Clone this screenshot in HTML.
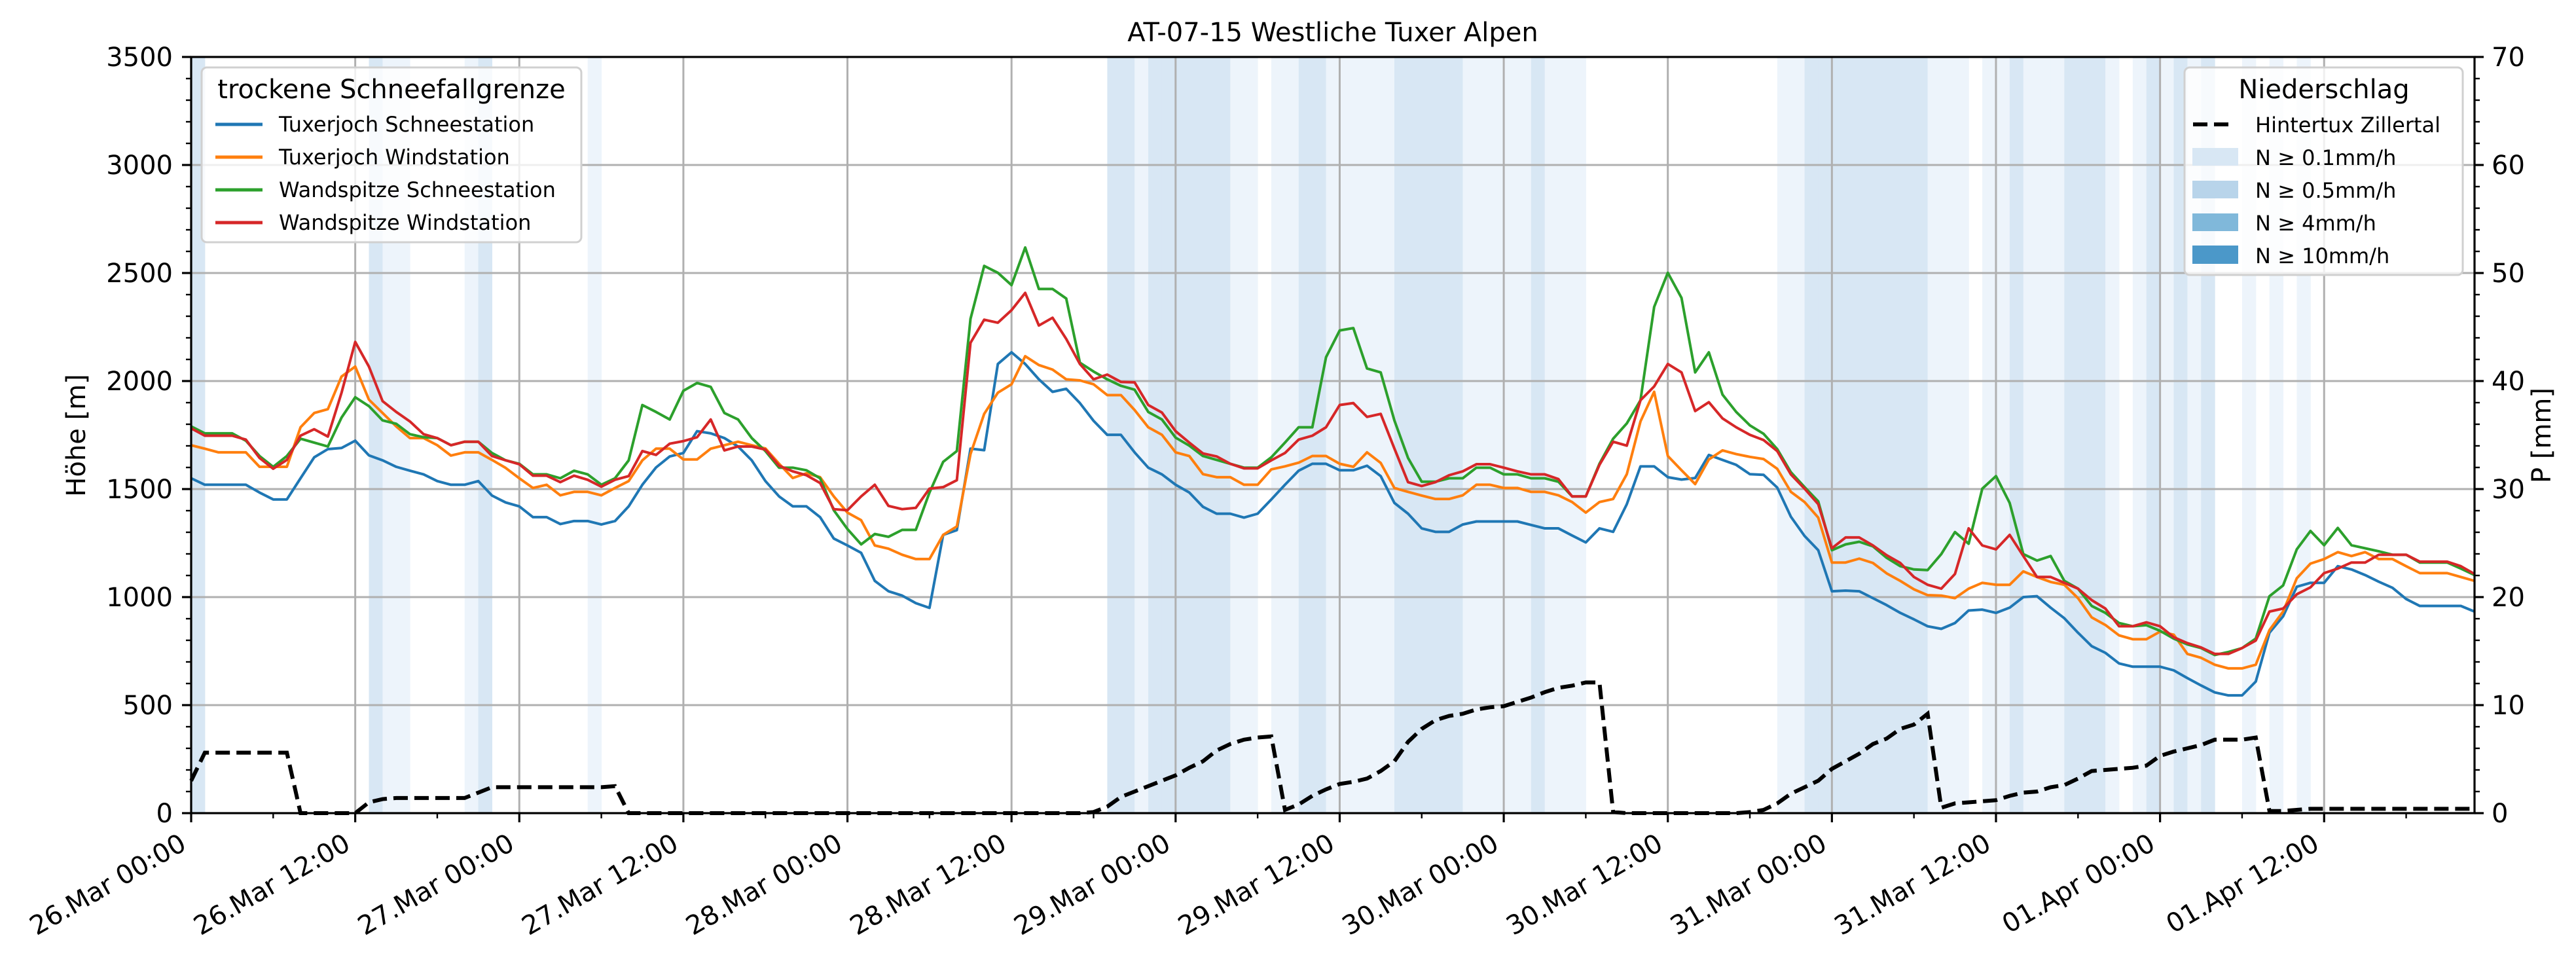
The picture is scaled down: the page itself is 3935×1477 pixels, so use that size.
<!DOCTYPE html>
<html><head><meta charset="utf-8"><style>
html,body{margin:0;padding:0;background:#fff;}
svg{display:block;font-family:"DejaVu Sans","Liberation Sans",sans-serif;}
</style></head><body>
<svg id="chart" width="3935" height="1477" viewBox="0 0 3935 1477" xmlns="http://www.w3.org/2000/svg">
<rect x="0" y="0" width="3935" height="1477" fill="#fff"/>
<g id="bands"></g>
<g id="grid"></g>
<g id="series"></g>
<g id="axes"></g>
<text x="2036" y="63" font-size="40" text-anchor="middle">AT-07-15 Westliche Tuxer Alpen</text>
<text transform="translate(130,665) rotate(-90)" font-size="40" text-anchor="middle">Höhe [m]</text>
<text transform="translate(3896,665) rotate(-90)" font-size="40" text-anchor="middle">P [mm]</text>
<g>
<rect x="308" y="103" width="580" height="267" rx="8" fill="#fff" fill-opacity="0.8" stroke="#d0d0d0" stroke-width="3"/>
<text x="598" y="150" font-size="40" text-anchor="middle">trockene Schneefallgrenze</text>
<g><line x1="329" y1="190" x2="401" y2="190" stroke="#1f77b4" stroke-width="5"/><text x="426" y="201" font-size="32">Tuxerjoch Schneestation</text></g>
<g><line x1="329" y1="240" x2="401" y2="240" stroke="#ff7f0e" stroke-width="5"/><text x="426" y="251" font-size="32">Tuxerjoch Windstation</text></g>
<g><line x1="329" y1="290" x2="401" y2="290" stroke="#2ca02c" stroke-width="5"/><text x="426" y="301" font-size="32">Wandspitze Schneestation</text></g>
<g><line x1="329" y1="340" x2="401" y2="340" stroke="#d62728" stroke-width="5"/><text x="426" y="351" font-size="32">Wandspitze Windstation</text></g>
</g>
<g>
<rect x="3337" y="103" width="425" height="317" rx="8" fill="#fff" fill-opacity="0.8" stroke="#d0d0d0" stroke-width="3"/>
<text x="3550" y="150" font-size="40" text-anchor="middle">Niederschlag</text>
<g><line x1="3350" y1="190" x2="3408" y2="190" stroke="#000" stroke-width="6" stroke-dasharray="22,10"/><text x="3445" y="202" font-size="32">Hintertux Zillertal</text></g>
<g><rect x="3349" y="226" width="70" height="27" fill="#d8e7f4"/><text x="3445" y="252" font-size="32">N ≥ 0.1mm/h</text></g>
<g><rect x="3349" y="276" width="70" height="27" fill="#b8d4ea"/><text x="3445" y="302" font-size="32">N ≥ 0.5mm/h</text></g>
<g><rect x="3349" y="326" width="70" height="27" fill="#80b8da"/><text x="3445" y="352" font-size="32">N ≥ 4mm/h</text></g>
<g><rect x="3349" y="375" width="70" height="28" fill="#4b98c9"/><text x="3445" y="402" font-size="32">N ≥ 10mm/h</text></g>
</g>
</svg>
<script>
const xTickLabels = ["26.Mar 00:00","26.Mar 12:00","27.Mar 00:00","27.Mar 12:00","28.Mar 00:00","28.Mar 12:00","29.Mar 00:00","29.Mar 12:00","30.Mar 00:00","30.Mar 12:00","31.Mar 00:00","31.Mar 12:00","01.Apr 00:00","01.Apr 12:00"];
const yTicks = [0,500,1000,1500,2000,2500,3000,3500];
const y2Ticks = [0,10,20,30,40,50,60,70];
const tuxSchnee = [1550,1520,1520,1520,1520,1484,1452,1452,1550,1647,1685,1690,1724,1656,1633,1603,1585,1568,1537,1520,1520,1537,1470,1438,1420,1370,1370,1338,1352,1352,1336,1352,1420,1520,1600,1651,1667,1768,1758,1736,1697,1633,1537,
1466,1420,1420,1370,1271,1239,1205,1075,1027,1007,972,950,1288,1310,1687,1680,2079,2133,2079,2008,1950,1964,1898,1816,1751,1751,1670,1599,1568,1520,1484,1418,1386,1386,1368,1386,1452,1520,1585,1617,1617,1587,
1587,1608,1560,1436,1386,1318,1302,1302,1336,1350,1350,1350,1350,1334,1318,1318,1285,1253,1318,1302,1430,1605,1605,1555,1544,1551,1658,1635,1612,1569,1566,1507,1372,1283,1217,1027,1030,1027,995,963,927,897,
865,853,880,938,942,927,951,1000,1004,951,902,835,773,742,693,678,678,678,661,625,591,559,545,545,609,835,911,1048,1066,1066,1143,1128,1102,1071,1043,991,959,959,959,959,933];
const tuxWind = [1703,1687,1670,1670,1670,1603,1603,1603,1786,1852,1870,2021,2067,1914,1852,1790,1736,1736,1703,1655,1670,1670,1635,1598,1550,1505,1520,1471,1487,1487,1471,1505,1537,1633,1687,1687,1637,1637,1687,1703,1719,1703,1688,
1617,1551,1573,1555,1466,1391,1356,1239,1224,1196,1176,1176,1288,1327,1662,1848,1946,1985,2115,2074,2053,2008,2003,1985,1935,1935,1866,1786,1751,1670,1653,1569,1555,1555,1520,1520,1591,1605,1622,1653,1653,1617,
1603,1670,1621,1505,1487,1470,1454,1454,1471,1520,1520,1505,1505,1487,1487,1471,1440,1391,1440,1454,1569,1813,1950,1653,1587,1523,1637,1679,1662,1649,1639,1594,1487,1440,1368,1160,1160,1178,1158,1110,1075,1036,
1009,1007,995,1039,1066,1057,1057,1119,1093,1070,1057,995,906,871,823,805,805,840,826,737,719,687,670,670,687,847,933,1087,1155,1176,1208,1190,1208,1176,1176,1143,1111,1111,1111,1093,1075];
const wandSchnee = [1790,1758,1758,1758,1724,1653,1603,1653,1733,1715,1697,1831,1925,1884,1818,1802,1754,1740,1736,1703,1719,1719,1667,1633,1617,1568,1568,1550,1585,1568,1520,1550,1633,1889,1857,1822,1955,1991,1973,1852,1822,1736,1676,
1599,1599,1587,1550,1402,1315,1244,1292,1279,1311,1311,1484,1626,1676,2288,2533,2501,2444,2618,2426,2426,2382,2085,2044,2008,1978,1960,1857,1822,1738,1701,1653,1635,1617,1599,1599,1647,1715,1786,1786,2110,2234,
2245,2058,2040,1818,1644,1534,1534,1550,1550,1599,1599,1568,1568,1550,1550,1534,1466,1466,1617,1733,1804,1911,2343,2501,2385,2040,2133,1937,1857,1795,1756,1685,1578,1509,1443,1217,1244,1256,1235,1182,1143,1128,
1125,1199,1301,1247,1502,1560,1436,1199,1169,1190,1075,1039,959,927,880,865,870,844,808,781,764,732,746,764,808,1004,1054,1221,1306,1240,1320,1240,1226,1212,1196,1196,1160,1160,1160,1132,1102];
const wandWind = [1781,1747,1747,1747,1729,1644,1594,1635,1747,1777,1743,1946,2181,2067,1907,1857,1813,1754,1736,1703,1719,1719,1653,1633,1615,1562,1562,1532,1562,1543,1511,1543,1560,1676,1658,1710,1722,1740,1822,1679,1697,1697,1683,
1608,1582,1564,1528,1407,1402,1466,1520,1422,1407,1413,1502,1509,1541,2177,2284,2270,2328,2408,2257,2293,2195,2079,2008,2030,1996,1994,1889,1854,1768,1715,1665,1651,1617,1596,1596,1633,1667,1729,1747,1786,1889,
1898,1834,1848,1688,1532,1514,1532,1564,1582,1615,1615,1599,1582,1568,1568,1546,1466,1466,1612,1719,1701,1911,1975,2079,2040,1861,1902,1827,1786,1751,1727,1676,1568,1502,1430,1226,1276,1276,1239,1194,1158,1093,
1057,1039,1107,1318,1239,1221,1288,1190,1093,1093,1066,1039,986,947,865,865,883,865,814,787,767,737,737,764,799,933,947,1013,1045,1111,1132,1160,1160,1196,1196,1196,1164,1164,1164,1143,1107];
const precip = [3.0,5.6,5.6,5.6,5.6,5.6,5.6,5.6,0,0,0,0,0,1.0,1.3,1.4,1.4,1.4,1.4,1.4,1.4,1.9,2.4,2.4,2.4,2.4,2.4,2.4,2.4,2.4,2.4,2.5,0,
0,0,0,0,0,0,0,0,0,0,0,0,0,0,0,0,0,0,0,0,0,0,0,0,0,0,0,0,0,0,0,0,0,
0.1,0.6,1.5,2.0,2.5,3.0,3.5,4.2,4.8,5.8,6.4,6.8,7.0,7.1,0.3,0.8,1.6,2.2,2.7,2.9,3.2,3.9,4.8,6.6,7.8,8.6,9.0,9.2,9.6,9.8,9.9,10.3,10.7,11.2,11.6,11.8,12.1,12.1,0.1,
0,0,0,0,0,0,0,0,0,0.1,0.3,0.9,1.8,2.4,3.0,4.1,4.8,5.5,6.4,6.9,7.8,8.2,9.2,0.5,0.9,1.0,1.1,1.2,1.6,1.9,2.0,2.4,2.6,3.2,3.9,4.0,4.1,4.2,4.4,5.3,5.7,6.0,6.3,6.8,6.8,6.8,7.0,0.2,0.2,0.3,
0.4,0.4,0.4,0.4,0.4,0.4,0.4,0.4,0.4,0.4,0.4,0.4,0.4];
const precipClass = [2,0,0,0,0,0,0,0,0,0,0,0,0,2,1,1,0,0,0,0,1,2,0,0,0,0,0,0,0,1,
0,0,0,0,0,0,0,0,0,0,0,0,0,0,0,0,0,0,0,0,0,0,0,0,0,0,0,0,0,0,0,0,0,0,0,0,0,
2,2,1,2,2,2,2,2,2,1,1,0,1,1,2,2,1,1,1,1,1,2,2,2,2,2,1,1,1,1,1,2,1,1,1,
0,0,0,0,0,0,0,0,0,0,0,0,0,0,1,1,2,2,2,2,2,2,2,2,2,1,1,1,0,1,1,2,1,1,1,2,2,2,1,0,1,2,1,2,1,2,0,0,1,0,1,0,1,
0,0,0,0,0,0,0,0,0,0,0,0,0];

const NS='http://www.w3.org/2000/svg';
const L=292,R=3780,T=87,B=1242,HMAX=167;
const xs=h=>L+(R-L)*h/HMAX;
const ys=v=>B-(B-T)*v/3500;
const ys2=v=>B-(B-T)*v/70;
function mk(tag,attrs,parent){const e=document.createElementNS(NS,tag);for(const k in attrs)e.setAttribute(k,attrs[k]);parent.appendChild(e);return e;}
const gB=document.getElementById('bands'),gG=document.getElementById('grid'),gS=document.getElementById('series'),gA=document.getElementById('axes');
const bandCol=['none','#edf4fb','#d8e7f4'];
precipClass.forEach((c,h)=>{if(!c)return;
 const r=mk('rect',{x:xs(h),y:T,width:xs(h+1)-xs(h)+0.5,height:B-T,fill:bandCol[c]},gB);
 
 
});
xTickLabels.forEach((lab,i)=>{const x=xs(i*12);
 const g=mk('line',{x1:x,y1:T,x2:x,y2:B,stroke:'#b0b0b0','stroke-width':3},gG);
 
 
});
yTicks.forEach(v=>{const y=ys(v);
 const g=mk('line',{x1:L,y1:y,x2:R,y2:y,stroke:'#b0b0b0','stroke-width':3},gG);
 
 
});
function line(arr,col,name){
 const p=mk('polyline',{points:arr.map((v,i)=>xs(i)+','+ys(v)).join(' '),fill:'none',stroke:col,'stroke-width':4,'stroke-linejoin':'round'},gS);
 
 
}
line(tuxSchnee,'#1f77b4','line-tuxerjoch-schneestation');
line(tuxWind,'#ff7f0e','line-tuxerjoch-windstation');
line(wandSchnee,'#2ca02c','line-wandspitze-schneestation');
line(wandWind,'#d62728','line-wandspitze-windstation');
const pp=mk('polyline',{points:precip.map((v,i)=>xs(i)+','+ys2(v)).join(' '),fill:'none',stroke:'#000','stroke-width':6,'stroke-dasharray':'22,10'},gS);


// axes frame
const fr=mk('rect',{x:L,y:T,width:R-L,height:B-T,fill:'none',stroke:'#000','stroke-width':3.2},gA);


for(let v=0;v<=3500;v+=100){const y=ys(v),maj=v%500===0;
 const t=mk('line',{x1:L-(maj?14:8),y1:y,x2:L,y2:y,stroke:'#000','stroke-width':maj?3.2:2.4},gA);
 
 
}
yTicks.forEach(v=>{
 const t=mk('text',{x:L-28,y:ys(v)+14,'font-size':40,'text-anchor':'end'},gA);t.textContent=v;
 
 
});
for(let v=0;v<=70;v+=2){const y=ys2(v),maj=v%10===0;
 const t=mk('line',{x1:R,y1:y,x2:R+(maj?14:8),y2:y,stroke:'#000','stroke-width':maj?3.2:2.4},gA);
 
 
}
y2Ticks.forEach(v=>{
 const t=mk('text',{x:R+26,y:ys2(v)+14,'font-size':40},gA);t.textContent=v;
 
 
});
for(let h=0;h<=HMAX;h+=6){const x=xs(h),maj=h%12===0;
 const t=mk('line',{x1:x,y1:B,x2:x,y2:B+(maj?14:8),stroke:'#000','stroke-width':maj?3.2:2.4},gA);
 
 
}
xTickLabels.forEach((lab,i)=>{const x=xs(i*12)-5,y=1296;
 const t=mk('text',{transform:`translate(${x},${y}) rotate(-30)`,'font-size':40,'text-anchor':'end'},gA);t.textContent=lab;
 
 
});
</script>
</body></html>
